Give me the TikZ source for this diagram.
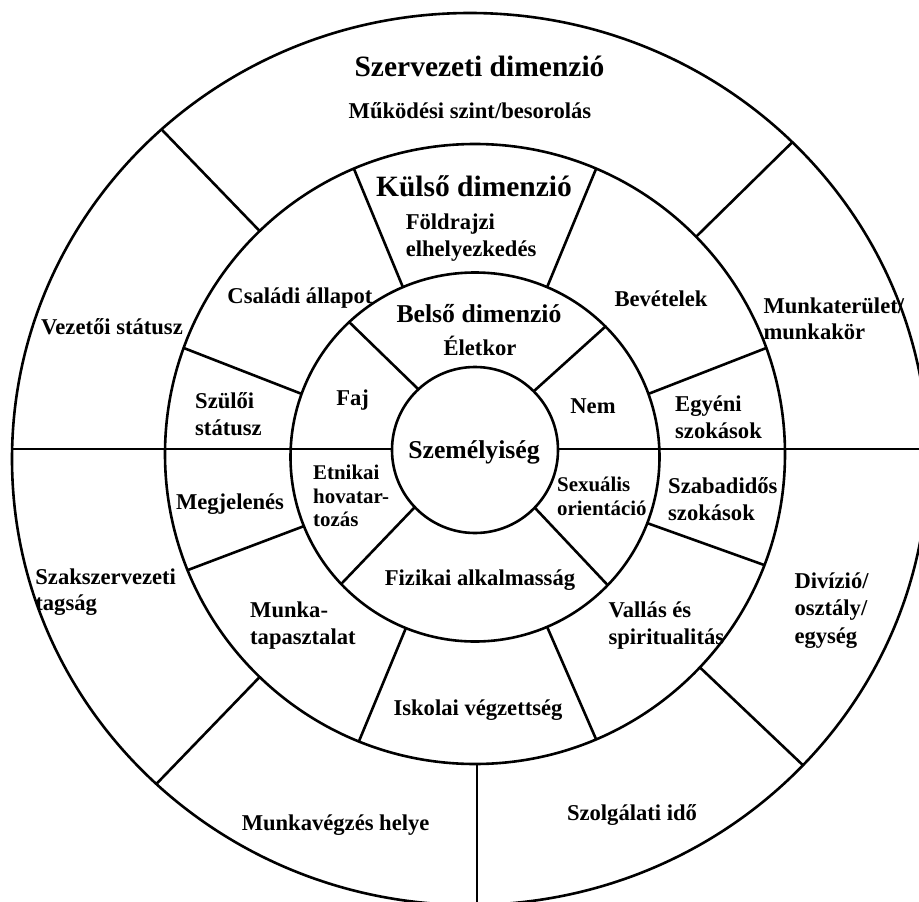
\documentclass[tikz,border=0pt]{standalone}
\usepackage{fontspec}
\setmainfont{Liberation Serif}
\usetikzlibrary{calc}
\newcommand\mylines[1]{\vtop{\halign{##\hfil\cr#1\crcr}}}
\begin{document}
\begin{tikzpicture}[x=1pt,y=-1pt,
  ring/.style={draw=black, line width=2.6pt},
  lbl/.style={inner sep=0pt, font=\fontsize{22.6}{26.5}\selectfont\bfseries},
  big/.style={inner sep=0pt, font=\fontsize{29.5}{34}\selectfont\bfseries},
  mid/.style={inner sep=0pt, font=\fontsize{25.7}{30}\selectfont\bfseries},
  small/.style={inner sep=0pt, font=\fontsize{20.9}{23.7}\selectfont\bfseries}]
\useasboundingbox (0,0) rectangle (919,902);
\fill[white] (0,0) rectangle (919,902);
\clip (0,0) rectangle (919,902);
\coordinate (Ci) at (475,450);
\coordinate (Cb) at (475,457);
\coordinate (Ck) at (475,454);
\coordinate (Co) at (470,459);
\draw[ring] (Ci) circle[radius=83pt];
\draw[ring] (Cb) circle[radius=184.5pt];
\draw[ring] (Ck) circle[radius=310pt];
\draw[ring] (Co) ellipse[x radius=458pt, y radius=446pt];
% inner ring dividers
\foreach \a in {133,45,-44,-136.5}
  \draw[ring] ($(Ci)+(\a:83pt)$) -- ($(Cb)+(\a:184.5pt)$);
% middle ring dividers
\foreach \a in {113,67,20,-21,-67,-112,-158,160}
  \draw[ring] ($(Cb)+(\a:184.5pt)$) -- ($(Ck)+(\a:310pt)$);
% outer ring dividers
\begin{scope}
\clip (Co) ellipse[x radius=458pt, y radius=446pt];
\foreach \a in {134,44.5,-43.5,-134}
  \draw[ring] ($(Ck)+(\a:310pt)$) -- ($(Ck)+(\a:520pt)$);
\coordinate (vtop) at (477,764);
\coordinate (vbot) at (477,960);
\draw[ring] (vtop) -- (vbot);
\coordinate (hl0) at (0,449);
\coordinate (hl1) at (392,449);
\coordinate (hr0) at (558,449);
\coordinate (hr1) at (960,449);
\draw[ring] (hl0) -- (hl1);
\draw[ring] (hr0) -- (hr1);
\end{scope}
% labels
\node[big, anchor=base] (szerv) at (479.5,76) {Szervezeti dimenzió};
\node[lbl, anchor=base] (mukod) at (470,118) {Működési szint/besorolás};
\node[big, anchor=base] (kulso) at (474,196) {Külső dimenzió};
\node[mid, anchor=base] (belso) at (479,322) {Belső dimenzió};
\node[lbl, anchor=base] (eletkor) at (480,355) {Életkor};
\node[mid, anchor=base] (szem) at (474,458) {Személyiség};
\node[lbl, anchor=base] (faj) at (352.7,405) {Faj};
\node[lbl, anchor=base] (nem) at (593,413) {Nem};
\node[lbl, anchor=base] (fiz) at (480,585) {Fizikai alkalmasság};
\node[small, anchor=base west] (etn) at (313,479.3) {\mylines{Etnikai\cr hovatar-\cr tozás}};
\node[small, anchor=base west] (sex) at (557,491.7) {\mylines{Sexuális\cr orientáció}};
\node[lbl, anchor=base west] (fold) at (405.6,229.8) {\mylines{Földrajzi\cr elhelyezkedés}};
\node[lbl, anchor=base] (csal) at (300,303.5) {Családi állapot};
\node[lbl, anchor=base] (bev) at (661,306.5) {Bevételek};
\node[lbl, anchor=base west] (szuloi) at (195,408.6) {\mylines{Szülői\cr státusz}};
\node[lbl, anchor=base west] (egyeni) at (675,411.5) {\mylines{Egyéni\cr szokások}};
\node[lbl, anchor=base] (megj) at (230,509) {Megjelenés};
\node[lbl, anchor=base west] (szabad) at (668,493.6) {\mylines{Szabadidős\cr szokások}};
\node[lbl, anchor=base west] (munka) at (250,617.8) {\mylines{Munka-\cr tapasztalat}};
\node[lbl, anchor=base west] (vallas) at (608.4,617.8) {\mylines{Vallás és\cr spiritualitás}};
\node[lbl, anchor=base] (iskolai) at (478,715) {Iskolai végzettség};
\node[lbl, anchor=base] (vezetoi) at (112,334) {Vezetői státusz};
\node[lbl, anchor=base west] (munkat) at (763.3,313.3) {\mylines{Munkaterület/\cr munkakör}};
\node[lbl, anchor=base west] (szaksz) at (35.2,584.4) {\mylines{Szakszervezeti\cr tagság}};
\node[lbl, anchor=base west, font=\fontsize{22.6}{27.3}\selectfont\bfseries] (div) at (794.3,588.5) {\mylines{Divízió/\cr osztály/\cr egység}};
\node[lbl, anchor=base] (munkav) at (335.6,830) {Munkavégzés helye};
\node[lbl, anchor=base] (szolg) at (632,820.5) {Szolgálati idő};
\end{tikzpicture}
\end{document}
